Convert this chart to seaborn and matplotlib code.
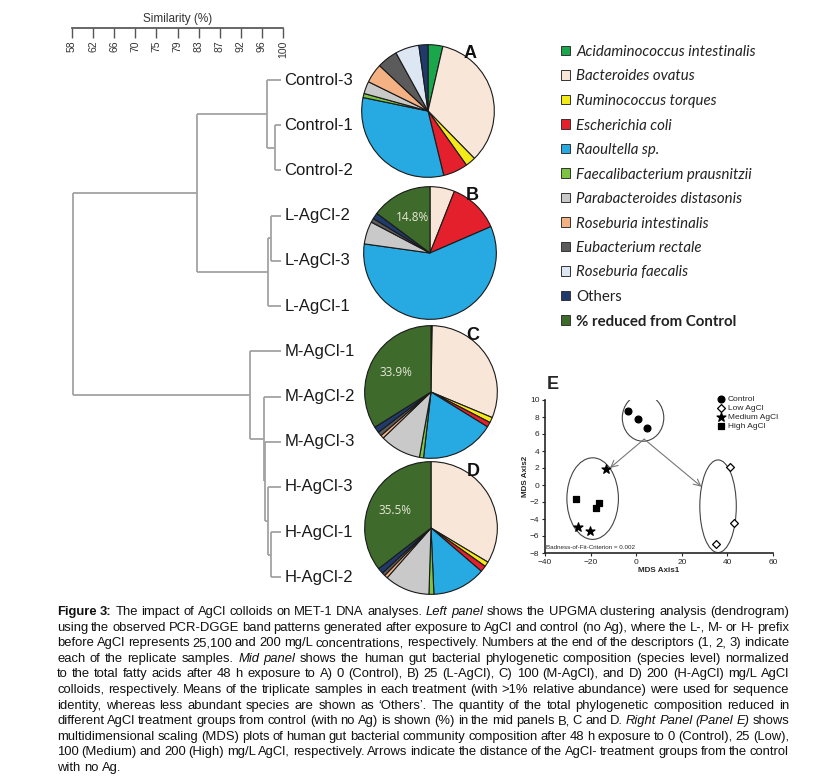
import numpy as np
import pandas as pd
import matplotlib
matplotlib.use("Agg")
import matplotlib.pyplot as plt
from matplotlib.patches import Patch, Ellipse
import seaborn as sns

sns.set_theme(style="ticks")
plt.rcParams['font.family'] = ['Liberation Sans', 'DejaVu Sans']

W, H = 823, 778

# ---- dendrogram (UPGMA) ----
leaf_labels = ["Control-3", "Control-1", "Control-2", "L-AgCl-2", "L-AgCl-3", "L-AgCl-1",
               "M-AgCl-1", "M-AgCl-2", "M-AgCl-3", "H-AgCl-3", "H-AgCl-1", "H-AgCl-2"]
# merges: ids >= 12 refer to earlier merges (12 = first merge, ...)
merge_a = [1, 0, 3, 5, 13, 10, 9, 8, 7, 6, 16]
merge_b = [2, 12, 4, 14, 15, 11, 17, 18, 19, 20, 21]
merge_sim = [98.4, 96.8, 97.6, 97.1, 82.9, 97.6, 97.0, 96.4, 96.2, 93.4, 58.2]
sim_tick_labels = ["58", "62", "66", "70", "75", "79", "83", "87", "92", "96", "100"]

# ---- pie compositions (%) ----
species = ["Acidaminococcus intestinalis", "Bacteroides ovatus", "Ruminococcus torques",
           "Escherichia coli", "Raoultella sp.", "Faecalibacterium prausnitzii",
           "Parabacteroides distasonis", "Roseburia intestinalis", "Eubacterium rectale",
           "Roseburia faecalis", "Others", "% reduced from Control"]
species_colors = ["#1aa64a", "#f8e6d8", "#f3ea1a", "#e3202b", "#27a9e1", "#7cc243",
                  "#c9c9c9", "#f4b183", "#5b5b5b", "#dde6f3", "#1f3a6b", "#3e6a2b"]
panel_names = ["A", "B", "C", "D"]
comp_A = [3.6, 34.0, 2.5, 6.0, 32.0, 1.0, 3.0, 4.7, 5.0, 5.8, 2.2, 0.0]
comp_B = [0.0, 6.0, 0.0, 12.5, 58.7, 0.0, 5.5, 0.0, 1.0, 0.0, 1.5, 14.8]
comp_C = [0.3, 31.0, 1.3, 1.2, 18.0, 1.0, 10.0, 0.8, 1.0, 0.0, 1.5, 33.9]
comp_D = [0.0, 33.6, 1.2, 1.5, 13.0, 1.2, 11.0, 0.8, 0.8, 0.0, 1.4, 35.5]

# ---- MDS ----
mds_group = ["Control"] * 3 + ["Low AgCl"] * 3 + ["Medium AgCl"] * 3 + ["High AgCl"] * 3
mds_x = [-3.5, 0.7, 4.8, 41.0, 42.8, 35.2, -13.3, -25.4, -20.3, -26.4, -16.5, -17.7]
mds_y = [8.7, 7.8, 6.7, 2.1, -4.5, -6.9, 1.9, -4.9, -5.4, -1.6, -2.1, -2.7]
mds_ticks_x = [-40, -20, 0, 20, 40, 60]
mds_ticks_y = [-8, -6, -4, -2, 0, 2, 4, 6, 8, 10]
badness = 0.002

fig = plt.figure(figsize=(W / 100, H / 100), dpi=100)


def fx(px):
    return px / W


def fy(py):
    return 1 - py / H


# similarity scale
ax_s = fig.add_axes([fx(72), fy(28), fx(211), 0.0001])
ax_s.set_xlim(58, 100)
ax_s.set_xticks(np.linspace(58, 100, len(sim_tick_labels)))
ax_s.set_xticklabels(sim_tick_labels, rotation=90, fontsize=7.5, color='#333')
ax_s.set_yticks([])
for s in ['top', 'left', 'right']:
    ax_s.spines[s].set_visible(False)
ax_s.spines['bottom'].set_color('#555')
ax_s.tick_params(axis='x', direction='out', length=7, width=1, color='#555', pad=2)
ax_s.set_title("Similarity (%)", fontsize=8.5, pad=4, color='#333')

# dendrogram
ax_d = fig.add_axes([fx(72), fy(600), fx(211), (600 - 57.4) / H])
ax_d.set_xlim(58, 100)
ax_d.set_ylim(11.5, -0.5)
ax_d.axis('off')
n = len(leaf_labels)
node_x = {i: 100.0 for i in range(n)}
node_y = {i: float(i) for i in range(n)}
lc = '#a3a3a3'
for k, (a, b, s) in enumerate(zip(merge_a, merge_b, merge_sim)):
    ax_d.plot([s, s], [node_y[a], node_y[b]], color=lc, lw=1.3, solid_capstyle='butt')
    for c in (a, b):
        ax_d.plot([s, node_x[c] - (0.3 if c < n else 0)], [node_y[c]] * 2, color=lc, lw=1.3,
                  solid_capstyle='butt')
    node_x[n + k] = s
    node_y[n + k] = (node_y[a] + node_y[b]) / 2
for i, lab in enumerate(leaf_labels):
    ax_d.text(100.3, i, lab, fontsize=12, va='center', ha='left', color='#1a1a1a', clip_on=False)

# pies
pie_cx = [428, 430, 431, 431]
pie_cy = [111, 253, 392, 528]
R = 67
for name, comp, cx, cy in zip(panel_names, [comp_A, comp_B, comp_C, comp_D], pie_cx, pie_cy):
    ax = fig.add_axes([fx(cx - R), fy(cy + R), 2 * R / W, 2 * R / H])
    vals = [v for v in comp if v > 0]
    cols = [c for v, c in zip(comp, species_colors) if v > 0]
    wedges, _ = ax.pie(vals, colors=cols, startangle=90, counterclock=False, radius=1,
                       wedgeprops=dict(edgecolor='#1a1a1a', linewidth=0.8))
    ax.set_xlim(-1.01, 1.01)
    ax.set_ylim(-1.01, 1.01)
    if comp[-1] > 0:
        w = wedges[-1]
        mid = np.deg2rad((w.theta1 + w.theta2) / 2)
        ax.text(0.6 * np.cos(mid), 0.6 * np.sin(mid), f"{comp[-1]}%", fontsize=8.5,
                color='#e6e8d8', ha='center', va='center', family=['Open Sans', 'DejaVu Sans'])
    fig.text(fx(cx + 42), fy(cy - 57), name, fontsize=13, fontweight='bold', ha='center',
             va='center', color='#111')

# species legend
handles = [Patch(facecolor=c, edgecolor='#333', linewidth=0.7) for c in species_colors]
leg = fig.legend(handles, species, loc='upper left', bbox_to_anchor=(fx(561), fy(45)),
                 frameon=False, handlelength=0.6, handleheight=0.6,
                 handletextpad=0.4, labelspacing=0.7, borderpad=0, borderaxespad=0,
                 prop={'family': ['Lato', 'DejaVu Sans'], 'size': 10.8})
for i, t in enumerate(leg.get_texts()):
    t.set_color('#222')
    if i < len(species) - 2:
        t.set_fontstyle('italic')
    elif i == len(species) - 1:
        t.set_fontweight('bold')

# MDS panel
df = pd.DataFrame({'group': mds_group, 'x': mds_x, 'y': mds_y})
ax_e = fig.add_axes([fx(545), fy(553), fx(228), 153 / H])
markers = {"Control": "o", "Low AgCl": "D", "Medium AgCl": "*", "High AgCl": "s"}
sizes = {"Control": 24, "Low AgCl": 16, "Medium AgCl": 45, "High AgCl": 24}
for g in ["Control", "Low AgCl", "Medium AgCl", "High AgCl"]:
    sub = df[df['group'] == g]
    sns.scatterplot(data=sub, x='x', y='y', marker=markers[g], s=sizes[g], color='black',
                    edgecolor='black', linewidth=0.9, label=g, ax=ax_e, zorder=3)
    if g == "Low AgCl":
        ax_e.collections[-1].set_facecolor('white')

# group outlines and arrows
for (ex, ey, ew, eh) in [(3.0, 7.9, 18.2, 5.5), (-19.1, -1.6, 22.6, 9.6), (35.9, -2.5, 16.0, 10.9)]:
    ax_e.add_patch(Ellipse((ex, ey), ew, eh, fill=False, edgecolor='#444', lw=0.8))
for tx, ty in [(-11.5, 2.0), (28.6, -0.2)]:
    ax_e.annotate("", xy=(tx, ty), xytext=(3.5, 5.4),
                  arrowprops=dict(arrowstyle='->', color='#777', lw=0.8, shrinkA=0, shrinkB=0))

ax_e.set_xlim(-40, 60)
ax_e.set_ylim(-8, 10)
ax_e.set_xticks(mds_ticks_x)
ax_e.set_yticks(mds_ticks_y)
ax_e.tick_params(labelsize=6, length=2.5, width=0.8, pad=1.5)
sns.despine(ax=ax_e)
for s in ['left', 'bottom']:
    ax_e.spines[s].set_linewidth(1.2)
ax_e.set_xlabel("MDS Axis1", fontsize=5.8, fontweight='bold', labelpad=1)
ax_e.set_ylabel("MDS Axis2", fontsize=5.8, fontweight='bold', labelpad=1)
ax_e.legend(loc='upper right', fontsize=6, frameon=False, labelspacing=0.12,
            handletextpad=0.3, borderaxespad=0.1, borderpad=0.1, handlelength=1.0,
            bbox_to_anchor=(1.03, 1.04))
ax_e.text(-39.5, -7.4, f"Badness-of-Fit-Criterion = {badness}", fontsize=4.5, va='center')
fig.text(fx(553), fy(385), "E", fontsize=13, fontweight='bold', ha='center', va='center')

# caption, justified word by word
caption = [
    [("Figure 3:", 'b'), (" The impact of AgCl colloids on MET-1 DNA analyses.", ''), ("Left panel", 'i'),
     ("shows the UPGMA clustering analysis (dendrogram)", '')],
    [("using the observed PCR-DGGE band patterns generated after exposure to AgCl and control (no Ag), where the L-, M- or H- prefix", '')],
    [("before AgCl represents 25,100 and 200 mg/L concentrations, respectively. Numbers at the end of the descriptors (1, 2, 3) indicate", '')],
    [("each of the replicate samples.", ''), ("Mid panel", 'i'),
     ("shows the human gut bacterial phylogenetic composition (species level) normalized", '')],
    [("to the total fatty acids after 48 h exposure to A) 0 (Control), B) 25 (L-AgCl), C) 100 (M-AgCl), and D) 200 (H-AgCl) mg/L AgCl", '')],
    [("colloids, respectively. Means of the triplicate samples in each treatment (with >1% relative abundance) were used for sequence", '')],
    [("identity, whereas less abundant species are shown as \u2018Others\u2019. The quantity of the total phylogenetic composition reduced in", '')],
    [("different AgCl treatment groups from control (with no Ag) is shown (%) in the mid panels B, C and D.", ''),
     ("Right Panel (Panel E)", 'i'), ("shows", '')],
    [("multidimensional scaling (MDS) plots of human gut bacterial community composition after 48 h exposure to 0 (Control), 25 (Low),", '')],
    [("100 (Medium) and 200 (High) mg/L AgCl, respectively. Arrows indicate the distance of the AgCl- treatment groups from the control", '')],
    [("with no Ag.", '')],
]
renderer = fig.canvas.get_renderer()
x0, x1 = 57, 789
cap_fs = 9.4
probe = fig.text(0, 0, "a a", fontsize=cap_fs)
probe2 = fig.text(0, 0, "aa", fontsize=cap_fs)
space_w = probe.get_window_extent(renderer).width - probe2.get_window_extent(renderer).width
probe.remove()
probe2.remove()
for li, line in enumerate(caption):
    y = fy(612 + li * 15.6)
    texts = []
    for seg, st in line:
        for word in seg.split():
            t = fig.text(0, y, word, fontsize=cap_fs, va='center', ha='left', color='#111',
                         fontweight='bold' if st == 'b' else 'normal',
                         fontstyle='italic' if st == 'i' else 'normal')
            texts.append(t)
    widths = [t.get_window_extent(renderer).width for t in texts]
    if li == len(caption) - 1:
        gap = space_w
    else:
        gap = max((x1 - x0 - sum(widths)) / (len(texts) - 1), 0.6 * space_w)
    x = x0
    for t, w in zip(texts, widths):
        t.set_x(x / W)
        x += w + gap

fig.savefig("out.png", dpi=100)
